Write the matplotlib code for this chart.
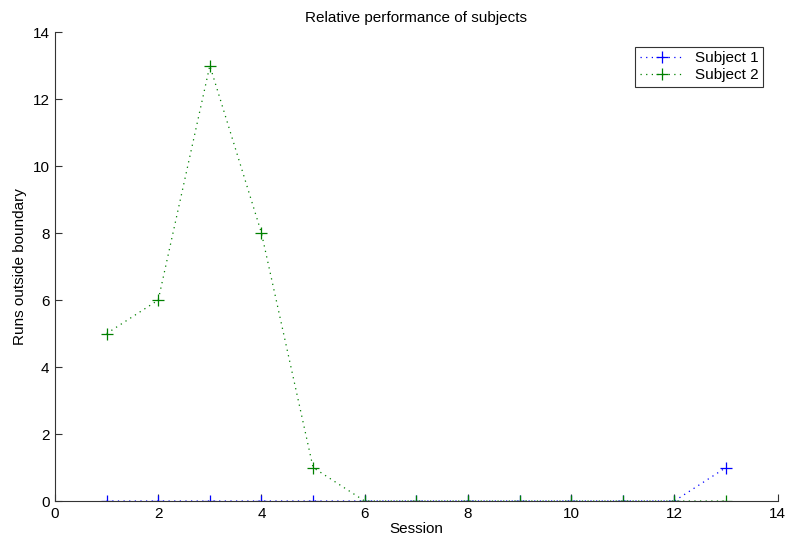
import matplotlib
matplotlib.use("Agg")
import matplotlib.pyplot as plt

sessions = list(range(1, 14))
subject1 = [0, 0, 0, 0, 0, 0, 0, 0, 0, 0, 0, 0, 1]
subject2 = [5, 6, 13, 8, 1, 0, 0, 0, 0, 0, 0, 0, 0]

plt.rcParams["font.family"] = ["Liberation Sans", "DejaVu Sans"]
plt.rcParams["font.size"] = 11

fig = plt.figure(figsize=(7.88, 5.44), dpi=100)
ax = fig.add_axes([0.0698, 0.079, 0.917, 0.862])

style = dict(linestyle=(0, (1, 3.5)), marker="+", markersize=9, markeredgewidth=0.9, linewidth=0.9)
ax.plot(sessions, subject1, color="blue", label="Subject 1", **style)
ax.plot(sessions, subject2, color="#008000", label="Subject 2", **style)

ax.set_xlim(0, 14)
ax.set_ylim(0, 14)
ax.set_xticks(range(0, 15, 2))
ax.set_yticks(range(0, 15, 2))
ax.spines["top"].set_visible(False)
ax.spines["right"].set_visible(False)
for side in ("left", "bottom"):
    ax.spines[side].set_color("#333333")
ax.tick_params(direction="in", length=5, color="#333333", pad=4)
ax.set_xlabel("Session", labelpad=1)
ax.set_ylabel("Runs outside boundary", labelpad=4)
ax.set_title("Relative performance of subjects", fontsize=11, pad=7)

leg = ax.legend(loc="upper right", bbox_to_anchor=(0.99, 0.985), fancybox=False, edgecolor="#333333",
                framealpha=1, handlelength=3, borderpad=0.3, labelspacing=0.2, handletextpad=0.6)
leg.get_frame().set_linewidth(0.8)

fig.savefig("out.png", dpi=100)
